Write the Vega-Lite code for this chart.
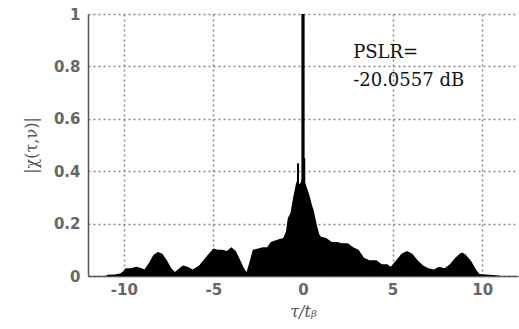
{
  "$schema": "https://vega.github.io/schema/vega-lite/v6.json",
  "width": 430,
  "height": 262,
  "autosize": "none",
  "padding": {"left": 88, "top": 14, "right": 1, "bottom": 53},
  "background": "white",
  "config": {
    "view": {"stroke": null},
    "axis": {
      "labelFont": "DejaVu Sans",
      "labelFontSize": 15,
      "labelFontWeight": "bold",
      "labelColor": "#666",
      "titleColor": "#555",
      "domainColor": "#555",
      "domainWidth": 1.5,
      "ticks": false,
      "gridColor": "#888",
      "gridDash": [2, 3],
      "gridWidth": 1.5,
      "gridOpacity": 1
    }
  },
  "datasets": {
    "env": [
      {"t": -11.0, "a": 0}, {"t": -10.9, "a": 0.005}, {"t": -10.5, "a": 0.006}, {"t": -10.2, "a": 0.01},
      {"t": -10.0, "a": 0.02}, {"t": -9.9, "a": 0.03}, {"t": -9.6, "a": 0.03}, {"t": -9.3, "a": 0.035},
      {"t": -9.0, "a": 0.03}, {"t": -8.85, "a": 0.025}, {"t": -8.6, "a": 0.05}, {"t": -8.35, "a": 0.08},
      {"t": -8.1, "a": 0.092}, {"t": -7.85, "a": 0.085}, {"t": -7.6, "a": 0.06}, {"t": -7.35, "a": 0.03},
      {"t": -7.15, "a": 0.015}, {"t": -6.9, "a": 0.03}, {"t": -6.7, "a": 0.04}, {"t": -6.45, "a": 0.035},
      {"t": -6.15, "a": 0.025}, {"t": -5.8, "a": 0.04}, {"t": -5.5, "a": 0.065}, {"t": -5.2, "a": 0.09},
      {"t": -5.0, "a": 0.105}, {"t": -4.75, "a": 0.1}, {"t": -4.5, "a": 0.1}, {"t": -4.25, "a": 0.095},
      {"t": -4.0, "a": 0.11}, {"t": -3.75, "a": 0.095}, {"t": -3.5, "a": 0.06}, {"t": -3.3, "a": 0.03},
      {"t": -3.15, "a": 0.015}, {"t": -3.0, "a": 0.05}, {"t": -2.8, "a": 0.1}, {"t": -2.5, "a": 0.105},
      {"t": -2.25, "a": 0.11}, {"t": -2.0, "a": 0.11}, {"t": -1.8, "a": 0.13}, {"t": -1.6, "a": 0.135},
      {"t": -1.35, "a": 0.14}, {"t": -1.1, "a": 0.145}, {"t": -0.95, "a": 0.17}, {"t": -0.85, "a": 0.22},
      {"t": -0.7, "a": 0.24}, {"t": -0.55, "a": 0.3}, {"t": -0.4, "a": 0.35}, {"t": -0.3, "a": 0.37},
      {"t": -0.2, "a": 0.35}, {"t": -0.1, "a": 0.36}, {"t": 0, "a": 0.38}, {"t": 0.1, "a": 0.36},
      {"t": 0.2, "a": 0.34}, {"t": 0.35, "a": 0.31}, {"t": 0.5, "a": 0.27}, {"t": 0.6, "a": 0.25},
      {"t": 0.75, "a": 0.2}, {"t": 0.9, "a": 0.16}, {"t": 1.0, "a": 0.15}, {"t": 1.3, "a": 0.145},
      {"t": 1.6, "a": 0.13}, {"t": 1.9, "a": 0.13}, {"t": 2.2, "a": 0.125}, {"t": 2.5, "a": 0.125},
      {"t": 2.8, "a": 0.11}, {"t": 3.1, "a": 0.1}, {"t": 3.4, "a": 0.07}, {"t": 3.7, "a": 0.06},
      {"t": 4.1, "a": 0.06}, {"t": 4.4, "a": 0.045}, {"t": 4.7, "a": 0.045}, {"t": 4.9, "a": 0.035},
      {"t": 5.2, "a": 0.06}, {"t": 5.5, "a": 0.085}, {"t": 5.8, "a": 0.095}, {"t": 6.1, "a": 0.085},
      {"t": 6.4, "a": 0.06}, {"t": 6.7, "a": 0.04}, {"t": 7.0, "a": 0.03}, {"t": 7.3, "a": 0.025},
      {"t": 7.6, "a": 0.035}, {"t": 7.9, "a": 0.03}, {"t": 8.2, "a": 0.045}, {"t": 8.5, "a": 0.07},
      {"t": 8.75, "a": 0.085}, {"t": 8.9, "a": 0.09}, {"t": 9.1, "a": 0.08}, {"t": 9.4, "a": 0.055},
      {"t": 9.7, "a": 0.02}, {"t": 9.85, "a": 0.008}, {"t": 10.2, "a": 0.006}, {"t": 10.6, "a": 0.004},
      {"t": 10.9, "a": 0.002}, {"t": 11.0, "a": 0}
    ],
    "spikes": [
      {"t": 0, "a": 1, "base": 0, "w": 3.2},
      {"t": -0.28, "a": 0.43, "base": 0, "w": 2},
      {"t": 0.07, "a": 0.45, "base": 0, "w": 2}
    ],
    "notes": [
      {"t": 2.8, "a": 0.833, "label": "PSLR="},
      {"t": 2.8, "a": 0.726, "label": "-20.0557 dB"}
    ]
  },
  "layer": [
    {
      "data": {"name": "env"},
      "mark": {"type": "area", "color": "black", "opacity": 1},
      "encoding": {
        "x": {
          "field": "t", "type": "quantitative",
          "scale": {"domain": [-12, 12], "nice": false, "zero": false},
          "axis": {
            "values": [-10, -5, 0, 5, 10],
            "labelExpr": "toString(datum.value)",
            "title": "τ/tᵦ",
            "titleFont": "DejaVu Serif",
            "titleFontStyle": "italic",
            "titleFontWeight": "normal",
            "titleFontSize": 16,
            "titlePadding": 6,
            "labelPadding": 6
          }
        },
        "y": {
          "field": "a", "type": "quantitative",
          "scale": {"domain": [0, 1], "nice": false},
          "axis": {
            "values": [0, 0.2, 0.4, 0.6, 0.8, 1],
            "labelExpr": "toString(datum.value)",
            "title": "|χ(τ,ν)|",
            "titleFont": "DejaVu Serif",
            "titleFontWeight": "normal",
            "titleFontSize": 16,
            "titlePadding": 14,
            "labelPadding": 8
          }
        }
      }
    },
    {
      "data": {"name": "spikes"},
      "mark": {"type": "rule", "color": "black"},
      "encoding": {
        "x": {"field": "t", "type": "quantitative"},
        "y": {"field": "a", "type": "quantitative"},
        "y2": {"field": "base"},
        "strokeWidth": {"field": "w", "type": "quantitative", "scale": null}
      }
    },
    {
      "data": {"name": "notes"},
      "mark": {"type": "text", "align": "left", "baseline": "alphabetic", "font": "DejaVu Serif", "fontSize": 18, "color": "#111"},
      "encoding": {
        "x": {"field": "t", "type": "quantitative"},
        "y": {"field": "a", "type": "quantitative"},
        "text": {"field": "label"}
      }
    }
  ]
}
